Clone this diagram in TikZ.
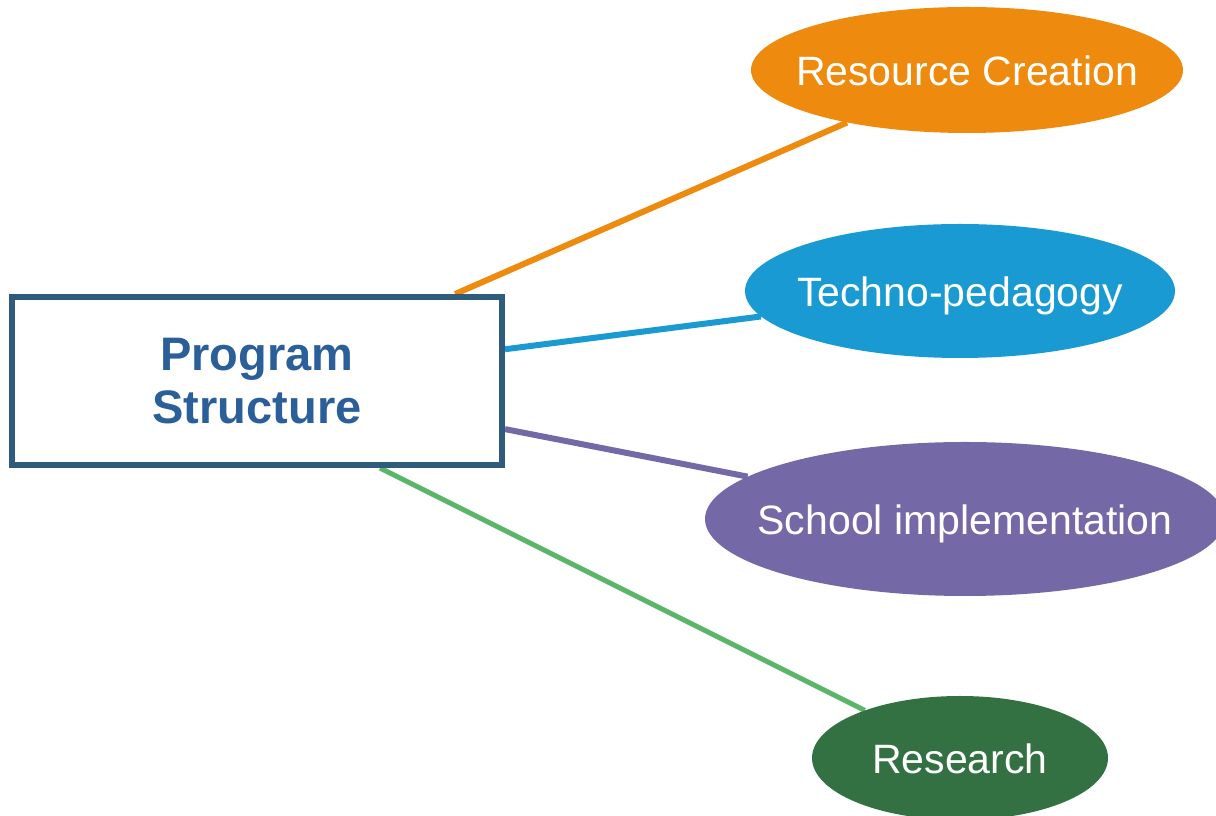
\documentclass[tikz,border=0pt]{standalone}
\usepackage{fontspec}
\setmainfont{Liberation Sans}
\usetikzlibrary{shapes.geometric,backgrounds}
\definecolor{rcOrange}{HTML}{EE8A0E}
\definecolor{tpBlue}{HTML}{1A9AD3}
\definecolor{siPurple}{HTML}{7469A6}
\definecolor{reGreen}{HTML}{337142}
\definecolor{reLine}{HTML}{5BB56A}
\definecolor{boxBorder}{HTML}{2F5B7C}
\definecolor{boxText}{HTML}{2A5F99}
\tikzset{
  bubble/.style={ellipse, inner sep=0pt, text=white,
    font=\fontsize{41}{48}\selectfont},
  link/.style={line width=6pt},
}
\newcommand{\bubtext}[1]{\smash{\raisebox{-16pt}{\makebox[0pt]{#1}}}}
\begin{document}
\begin{tikzpicture}[x=1pt,y=1pt]
\useasboundingbox (0,0) rectangle (1216,816);
\clip (0,0) rectangle (1216,816);

\node[draw=boxBorder, line width=6pt, fill=white, minimum width=490pt,
  minimum height=168pt, inner sep=0pt, align=center, text=boxText,
  font=\fontsize{47}{53}\selectfont\bfseries] (box) at (257,435) {Program\\Structure};

\node[bubble, fill=rcOrange, minimum width=432pt, minimum height=126pt] (rc) at (967,746) {\bubtext{Resource Creation}};
\node[bubble, fill=tpBlue, minimum width=430pt, minimum height=134pt] (tp) at (960,525) {\bubtext{Techno-pedagogy}};
\node[bubble, fill=siPurple, minimum width=520pt, minimum height=154pt] (si) at (965,297) {\bubtext{School implementation}};
\node[bubble, fill=reGreen, minimum width=296pt, minimum height=124pt] (re) at (960,58) {\bubtext{Research}};

\begin{scope}[on background layer]
\fill[white] (0,0) rectangle (1216,816);
\draw[link, rcOrange] (box) -- (rc);
\draw[link, tpBlue] (box) -- (tp);
\draw[link, siPurple] (box) -- (si);
\coordinate (gs) at ([xshift=123pt]box.south);
\draw[link, reLine, line width=5pt] (gs) -- (re);
\end{scope}
\end{tikzpicture}
\end{document}
